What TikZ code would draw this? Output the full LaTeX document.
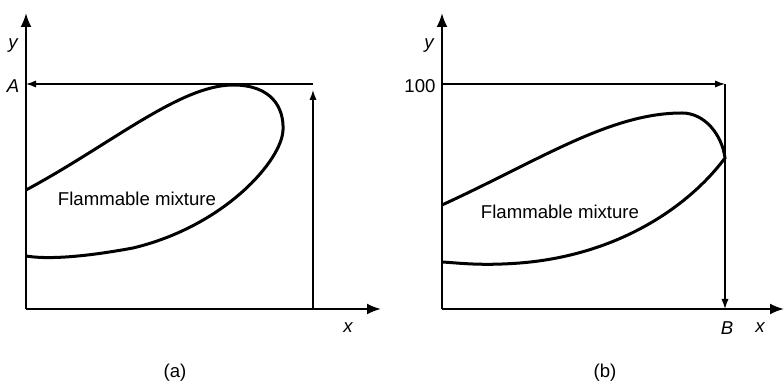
\documentclass[tikz,border=0pt]{standalone}
\usepackage{fontspec}
\setmainfont{Liberation Sans}
\usetikzlibrary{arrows.meta}

\tikzset{
  axis/.style={line width=1.1pt, -{Latex[length=7pt,width=5.5pt]}},
  guide/.style={line width=0.6pt, -{Latex[length=5pt,width=3.6pt]}},
  region/.style={line width=1.5pt},
  lbl/.style={font=\fontsize{9.3}{11}\selectfont, inner sep=0pt},
}

\begin{document}
\begin{tikzpicture}[x=0.5pt, y=-0.5pt]
  \useasboundingbox (0,0) rectangle (784,384);
  % (a)
  \coordinate (oa) at (26,309);
  \coordinate (ya) at (26,13);
  \coordinate (xa) at (381,309);
  \coordinate (ca) at (313,84);
  \coordinate (fa) at (313,309);
  \draw[axis] (oa) -- (ya);
  \draw[axis] (oa) -- (xa);
  \draw[guide] (fa) -- (ca |- 0,90);
  \draw[guide] (ca) -- (oa |- ca);
  \draw[region] (26,190) .. controls (110,145) and (180,85) .. (233,85)
    .. controls (272,85) and (284,108) .. (283,130)
    .. controls (282,160) and (225,226) .. (133,248)
    .. controls (90,256) and (50,260) .. (26,256);
  \node[lbl] (fla) at (137,199) {Flammable mixture};
  \node[lbl] (ylba) at (13,46) {\itshape y};
  \node[lbl] (alb) at (13,86) {\itshape A};
  \node[lbl] (xlba) at (348,328) {\itshape x};
  \node[lbl] (capa) at (175,373) {(a)};
  % (b)
  \coordinate (ob) at (442,309);
  \coordinate (yb) at (442,13);
  \coordinate (xb) at (784,309);
  \coordinate (cb) at (725,84);
  \coordinate (fb) at (725,309);
  \draw[axis] (ob) -- (yb);
  \draw[axis] (ob) -- (xb);
  \draw[guide] (ob |- cb) -- (cb);
  \draw[guide] (cb) -- (fb);
  \draw[region] (442,205) .. controls (540,160) and (610,113) .. (682,113)
    .. controls (705,113) and (722,135) .. (725,158)
    .. controls (690,205) and (620,255) .. (520,263)
    .. controls (480,266) and (460,263) .. (442,262);
  \node[lbl] (flb) at (560,212) {Flammable mixture};
  \node[lbl] (ylbb) at (429,46) {\itshape y};
  \node[lbl] (hlb) at (420,86) {100};
  \node[lbl] (blb) at (727,328) {\itshape B};
  \node[lbl] (xlbb) at (760,328) {\itshape x};
  \node[lbl] (capb) at (605,373) {(b)};
\end{tikzpicture}
\end{document}
